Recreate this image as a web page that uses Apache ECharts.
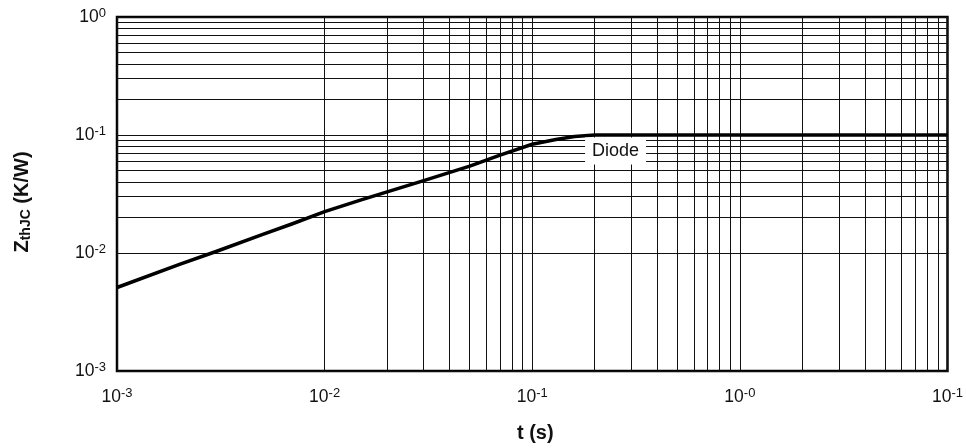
<!DOCTYPE html>
<html>
<head>
<meta charset="utf-8">
<script src="https://cdn.jsdelivr.net/npm/echarts@6/dist/echarts.min.js"></script>
<style>
  html, body { margin: 0; padding: 0; background: #fff; }
  #chart { width: 966px; height: 448px; }
</style>
</head>
<body>
<div id="chart"></div>
<script>
// time axis (s) and thermal impedance of the diode (K/W)
const tSec = [0.001, 0.002, 0.003, 0.005, 0.007, 0.01, 0.015, 0.02, 0.03, 0.05, 0.07, 0.1, 0.13, 0.16, 0.2, 10];
const zthDiode = [0.0051, 0.0080, 0.0103, 0.0143, 0.0177, 0.0224, 0.0282, 0.033, 0.0411, 0.0545, 0.0675, 0.0835, 0.0915, 0.097, 0.1, 0.1];

// tick label exponents (as printed on the original)
const xTickExps = ['-3', '-2', '-1', '-0', '-1'];
const yTickExps = ['-3', '-2', '-1', '0'];

// minor grid values 2..9 of each decade
const xDecades = [0.001, 0.01, 0.1, 1];
const yDecades = [0.001, 0.01, 0.1];
const minorSteps = [2, 3, 4, 5, 6, 7, 8, 9];

const FONT = 'Liberation Sans, Arial, Helvetica, sans-serif';

let chart = echarts.init(document.getElementById('chart'));

let minorLines = [];
xDecades.forEach((d) => {
  minorSteps.forEach((m) => { minorLines.push({ xAxis: d * m }); });
});
yDecades.forEach((d) => {
  minorSteps.forEach((m) => { minorLines.push({ yAxis: d * m }); });
});

let lineData = tSec.map((t, i) => [t, zthDiode[i]]);

const supRich = {
  b: { fontSize: 17.5, fontFamily: FONT, color: '#111', lineHeight: 20 },
  s: { fontSize: 13, fontFamily: FONT, color: '#111', lineHeight: 13, verticalAlign: 'top' }
};

let option = {
  animation: false,
  grid: {
    left: 117, right: 17, top: 17, bottom: 76,
    show: true, borderColor: '#000', borderWidth: 2.5, backgroundColor: '#fff'
  },
  xAxis: {
    type: 'log',
    logBase: 10,
    min: 0.001,
    max: 10,
    name: 't (s)',
    nameLocation: 'middle',
    nameGap: 52,
    nameTextStyle: { fontSize: 20, fontWeight: 'bold', fontFamily: FONT, color: '#111', padding: [0, 0, 0, 6] },
    axisLine: { show: false },
    axisTick: { show: false },
    axisLabel: {
      margin: 16,
      formatter: function (v, i) { return '{b|10}{s|' + xTickExps[i] + '}'; },
      rich: supRich
    },
    splitLine: { show: true, lineStyle: { color: '#111', width: 1 } }
  },
  yAxis: {
    type: 'log',
    logBase: 10,
    min: 0.001,
    max: 1,
    name: '{z|Z}{sub|thJC}{z| (K/W)}',
    nameLocation: 'middle',
    nameGap: 84,
    nameTextStyle: {
      padding: [0, 16, 0, 0],
      rich: {
        z: { fontSize: 20, fontWeight: 'bold', fontFamily: FONT, color: '#111', lineHeight: 22 },
        sub: { fontSize: 14, fontWeight: 'bold', fontFamily: FONT, color: '#111', lineHeight: 14, verticalAlign: 'bottom' }
      }
    },
    axisLine: { show: false },
    axisTick: { show: false },
    axisLabel: {
      margin: 11,
      formatter: function (v, i) { return '{b|10}{s|' + yTickExps[i] + '}'; },
      rich: supRich
    },
    splitLine: { show: true, lineStyle: { color: '#111', width: 1 } }
  },
  series: [
    {
      // minor log grid
      type: 'line',
      data: [],
      z: 1,
      silent: true,
      markLine: {
        z: 1,
        silent: true,
        symbol: ['none', 'none'],
        label: { show: false },
        lineStyle: { type: 'solid', color: '#111', width: 1 },
        data: minorLines
      }
    },
    {
      name: 'Diode',
      type: 'line',
      data: lineData,
      z: 5,
      smooth: false,
      showSymbol: false,
      lineStyle: { color: '#000', width: 3.5, join: 'round' },
      markPoint: {
        z: 10,
        symbol: 'rect',
        symbolSize: 1,
        itemStyle: { color: 'rgba(0,0,0,0)' },
        label: {
          show: true,
          position: 'inside',
          formatter: 'Diode',
          fontSize: 18,
          fontFamily: FONT,
          color: '#111',
          backgroundColor: '#fff',
          padding: [5, 7, 4, 7]
        },
        data: [{ coord: [0.252, 0.0731] }]
      }
    }
  ]
};

chart.setOption(option);
</script>
</body>
</html>
